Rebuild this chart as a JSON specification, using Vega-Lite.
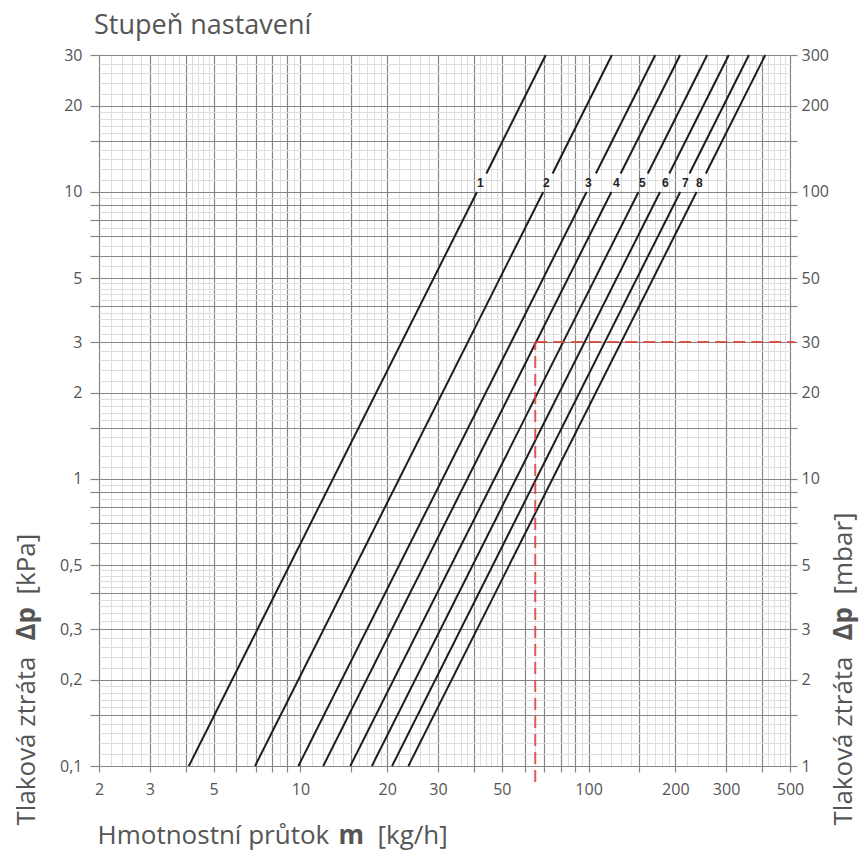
{
  "$schema": "https://vega.github.io/schema/vega-lite/v6.json",
  "width": 691,
  "height": 711,
  "autosize": "none",
  "padding": {"left": 99, "top": 55, "right": 69, "bottom": 88},
  "background": "white",
  "title": {"text": "Stupeň nastavení", "anchor": "start", "frame": "group", "font": "Open Sans", "fontSize": 27, "fontWeight": "normal", "color": "#555555", "dx": -5, "offset": 7},
  "config": {
    "view": {"stroke": null},
    "axis": {"domain": false, "labelFont": "Open Sans", "labelFontSize": 16, "labelColor": "#555555", "titleFont": "Open Sans", "titleFontSize": 26, "titleColor": "#555555", "titleFontWeight": "normal", "labelOverlap": false, "labelFlush": false}
  },
  "datasets": {
    "lines": [
      {"stupen": "1", "seg": "1a", "m": 4.1, "dp": 0.1}, {"stupen": "1", "seg": "1a", "m": 41, "dp": 10},
      {"stupen": "1", "seg": "1b", "m": 44.2, "dp": 11.6}, {"stupen": "1", "seg": "1b", "m": 71, "dp": 30},
      {"stupen": "2", "seg": "2a", "m": 6.96, "dp": 0.1}, {"stupen": "2", "seg": "2a", "m": 69.6, "dp": 10},
      {"stupen": "2", "seg": "2b", "m": 75, "dp": 11.6}, {"stupen": "2", "seg": "2b", "m": 120.5, "dp": 30},
      {"stupen": "3", "seg": "3a", "m": 9.84, "dp": 0.1}, {"stupen": "3", "seg": "3a", "m": 98.4, "dp": 10},
      {"stupen": "3", "seg": "3b", "m": 106, "dp": 11.6}, {"stupen": "3", "seg": "3b", "m": 170.4, "dp": 30},
      {"stupen": "4", "seg": "4a", "m": 12.0, "dp": 0.1}, {"stupen": "4", "seg": "4a", "m": 120, "dp": 10},
      {"stupen": "4", "seg": "4b", "m": 129.2, "dp": 11.6}, {"stupen": "4", "seg": "4b", "m": 207.8, "dp": 30},
      {"stupen": "5", "seg": "5a", "m": 14.9, "dp": 0.1}, {"stupen": "5", "seg": "5a", "m": 149, "dp": 10},
      {"stupen": "5", "seg": "5b", "m": 160.5, "dp": 11.6}, {"stupen": "5", "seg": "5b", "m": 258, "dp": 30},
      {"stupen": "6", "seg": "6a", "m": 17.7, "dp": 0.1}, {"stupen": "6", "seg": "6a", "m": 177, "dp": 10},
      {"stupen": "6", "seg": "6b", "m": 190.6, "dp": 11.6}, {"stupen": "6", "seg": "6b", "m": 306.6, "dp": 30},
      {"stupen": "7", "seg": "7a", "m": 20.8, "dp": 0.1}, {"stupen": "7", "seg": "7a", "m": 208, "dp": 10},
      {"stupen": "7", "seg": "7b", "m": 224, "dp": 11.6}, {"stupen": "7", "seg": "7b", "m": 360, "dp": 30},
      {"stupen": "8", "seg": "8a", "m": 23.7, "dp": 0.1}, {"stupen": "8", "seg": "8a", "m": 237, "dp": 10},
      {"stupen": "8", "seg": "8b", "m": 255.2, "dp": 11.6}, {"stupen": "8", "seg": "8b", "m": 410.5, "dp": 30}
    ],
    "labels": [
      {"label": "1", "m": 42.1, "dp": 10.74},
      {"label": "2", "m": 71.3, "dp": 10.74},
      {"label": "3", "m": 99.8, "dp": 10.74},
      {"label": "4", "m": 124.8, "dp": 10.74},
      {"label": "5", "m": 153.6, "dp": 10.74},
      {"label": "6", "m": 184.6, "dp": 10.74},
      {"label": "7", "m": 216.6, "dp": 10.74},
      {"label": "8", "m": 242.2, "dp": 10.74}
    ],
    "red": [
      {"seg": "v", "m": 65.3, "dp": 0.088}, {"seg": "v", "m": 65.3, "dp": 3},
      {"seg": "h", "m": 65.3, "dp": 3}, {"seg": "h", "m": 520, "dp": 3}
    ]
  },
  "resolve": {"axis": {"x": "independent", "y": "independent"}},
  "layer": [
    {
      "data": {"name": "lines"},
      "mark": {"type": "line", "opacity": 0},
      "encoding": {
        "x": {"field": "m", "type": "quantitative", "scale": {"type": "log", "domain": [2, 500], "nice": false},
          "axis": {"orient": "bottom", "values": [2.2,2.4,2.6,2.8,3.2,3.4,3.6,3.8,4.2,4.4,4.6,4.8,5.5,6.5,7.5,8.5,9.5,11,12,13,14,16,17,18,19,22,24,26,28,32,34,36,38,42,44,46,48,55,65,75,85,95,110,120,130,140,160,170,180,190,220,240,260,280,320,340,360,380,420,440,460,480],
            "grid": true, "gridColor": "#dedede", "gridWidth": 1, "ticks": false, "labels": false,
            "title": "Hmotnostní průtok", "titleX": -2, "titleY": 77, "titleAlign": "left", "titleBaseline": "alphabetic", "titleAngle": 0}},
        "y": {"field": "dp", "type": "quantitative", "scale": {"type": "log", "domain": [0.1, 30], "nice": false},
          "axis": {"orient": "left", "values": [0.11,0.12,0.13,0.14,0.16,0.17,0.18,0.19,0.22,0.24,0.26,0.28,0.32,0.34,0.36,0.38,0.42,0.44,0.46,0.48,0.55,0.65,0.75,0.85,0.95,1.1,1.2,1.3,1.4,1.6,1.7,1.8,1.9,2.2,2.4,2.6,2.8,3.2,3.4,3.6,3.8,4.2,4.4,4.6,4.8,5.5,6.5,7.5,8.5,9.5,11,12,13,14,16,17,18,19,22,24,26,28],
            "grid": true, "gridColor": "#dedede", "gridWidth": 1, "ticks": false, "labels": false,
            "title": "Tlaková ztráta", "titleX": -65, "titleY": 770, "titleAlign": "left", "titleBaseline": "alphabetic", "titleAngle": 270}},
        "detail": {"field": "seg"}
      }
    },
    {
      "data": {"name": "lines"},
      "mark": {"type": "line", "opacity": 0},
      "encoding": {
        "x": {"field": "m", "type": "quantitative", "scale": {"type": "log", "domain": [2, 500], "nice": false},
          "axis": {"orient": "bottom", "values": [2,3,4,5,6,7,8,9,10,15,20,30,40,50,60,70,80,90,100,150,200,300,400,500],
            "grid": true, "gridColor": "#868686", "gridWidth": 1.2, "ticks": true, "tickColor": "#868686", "tickWidth": 1.2, "tickSize": 6, "labelPadding": 9,
            "labelExpr": "indexof([2,3,5,10,20,30,50,100,200,300,500], datum.value) >= 0 ? toString(datum.value) : ''",
            "title": "m", "titleFontWeight": "bold", "titleX": 239, "titleY": 77, "titleAlign": "left", "titleBaseline": "alphabetic", "titleAngle": 0}},
        "y": {"field": "dp", "type": "quantitative", "scale": {"type": "log", "domain": [0.1, 30], "nice": false},
          "axis": {"orient": "left", "values": [0.1,0.15,0.2,0.3,0.4,0.5,0.6,0.7,0.8,0.9,1,1.5,2,3,4,5,6,7,8,9,10,15,20,30],
            "grid": true, "gridColor": "#868686", "gridWidth": 1.2, "ticks": true, "tickColor": "#868686", "tickWidth": 1.2, "tickSize": 9, "labelPadding": 8,
            "labelExpr": "indexof([0.1,0.2,0.3,0.5,1,2,3,5,10,20,30], datum.value) >= 0 ? replace(toString(datum.value), '.', ',') : ''",
            "title": "Δp", "titleFontWeight": "bold", "titleX": -65, "titleY": 585, "titleAlign": "left", "titleBaseline": "alphabetic", "titleAngle": 270}},
        "detail": {"field": "seg"}
      }
    },
    {
      "data": {"name": "lines"},
      "mark": {"type": "line", "opacity": 0},
      "encoding": {
        "x": {"field": "m", "type": "quantitative", "scale": {"type": "log", "domain": [2, 500], "nice": false},
          "axis": {"orient": "bottom", "grid": false, "ticks": false, "labels": false,
            "title": "[kg/h]", "titleX": 278, "titleY": 77, "titleAlign": "left", "titleBaseline": "alphabetic", "titleAngle": 0}},
        "y": {"field": "dp", "type": "quantitative", "scale": {"type": "log", "domain": [0.1, 30], "nice": false},
          "axis": {"orient": "left", "grid": false, "ticks": false, "labels": false,
            "title": "[kPa]", "titleX": -65, "titleY": 539, "titleAlign": "left", "titleBaseline": "alphabetic", "titleAngle": 270}},
        "detail": {"field": "seg"}
      }
    },
    {
      "data": {"name": "lines"},
      "mark": {"type": "line", "opacity": 0},
      "encoding": {
        "x": {"field": "m", "type": "quantitative", "scale": {"type": "log", "domain": [2, 500], "nice": false}, "axis": null},
        "y": {"field": "dp", "type": "quantitative", "scale": {"type": "log", "domain": [0.1, 30], "nice": false},
          "axis": {"orient": "right", "values": [0.1,0.15,0.2,0.3,0.4,0.5,0.6,0.7,0.8,0.9,1,1.5,2,3,4,5,6,7,8,9,10,15,20,30],
            "grid": false, "ticks": true, "tickColor": "#868686", "tickWidth": 1.2, "tickSize": 7, "labelPadding": 4,
            "labelExpr": "indexof([0.1,0.2,0.3,0.5,1,2,3,5,10,20,30], datum.value) >= 0 ? toString(round(datum.value * 10)) : ''",
            "title": "Tlaková ztráta", "titleX": 61, "titleY": 770, "titleAlign": "left", "titleBaseline": "alphabetic", "titleAngle": 270}},
        "detail": {"field": "seg"}
      }
    },
    {
      "data": {"name": "lines"},
      "mark": {"type": "line", "opacity": 0},
      "encoding": {
        "x": {"field": "m", "type": "quantitative", "scale": {"type": "log", "domain": [2, 500], "nice": false}, "axis": null},
        "y": {"field": "dp", "type": "quantitative", "scale": {"type": "log", "domain": [0.1, 30], "nice": false},
          "axis": {"orient": "right", "grid": false, "ticks": false, "labels": false,
            "title": "Δp", "titleFontWeight": "bold", "titleX": 61, "titleY": 585, "titleAlign": "left", "titleBaseline": "alphabetic", "titleAngle": 270}},
        "detail": {"field": "seg"}
      }
    },
    {
      "data": {"name": "lines"},
      "mark": {"type": "line", "opacity": 0},
      "encoding": {
        "x": {"field": "m", "type": "quantitative", "scale": {"type": "log", "domain": [2, 500], "nice": false}, "axis": null},
        "y": {"field": "dp", "type": "quantitative", "scale": {"type": "log", "domain": [0.1, 30], "nice": false},
          "axis": {"orient": "right", "grid": false, "ticks": false, "labels": false,
            "title": "[mbar]", "titleX": 61, "titleY": 539, "titleAlign": "left", "titleBaseline": "alphabetic", "titleAngle": 270}},
        "detail": {"field": "seg"}
      }
    },
    {
      "data": {"name": "lines"},
      "mark": {"type": "line", "color": "#1e1e1e", "strokeWidth": 2},
      "encoding": {
        "x": {"field": "m", "type": "quantitative", "axis": null},
        "y": {"field": "dp", "type": "quantitative", "axis": null},
        "detail": {"field": "seg"}
      }
    },
    {
      "data": {"name": "labels"},
      "mark": {"type": "text", "font": "Liberation Sans", "fontSize": 12, "fontWeight": "bold", "color": "#222222", "align": "center", "baseline": "middle"},
      "encoding": {
        "x": {"field": "m", "type": "quantitative", "axis": null},
        "y": {"field": "dp", "type": "quantitative", "axis": null},
        "text": {"field": "label"}
      }
    },
    {
      "data": {"name": "red"},
      "mark": {"type": "line", "color": "#d9403a", "strokeWidth": 2, "strokeDash": [12, 6], "opacity": 0.85},
      "encoding": {
        "x": {"field": "m", "type": "quantitative", "axis": null},
        "y": {"field": "dp", "type": "quantitative", "axis": null},
        "detail": {"field": "seg"}
      }
    }
  ]
}
